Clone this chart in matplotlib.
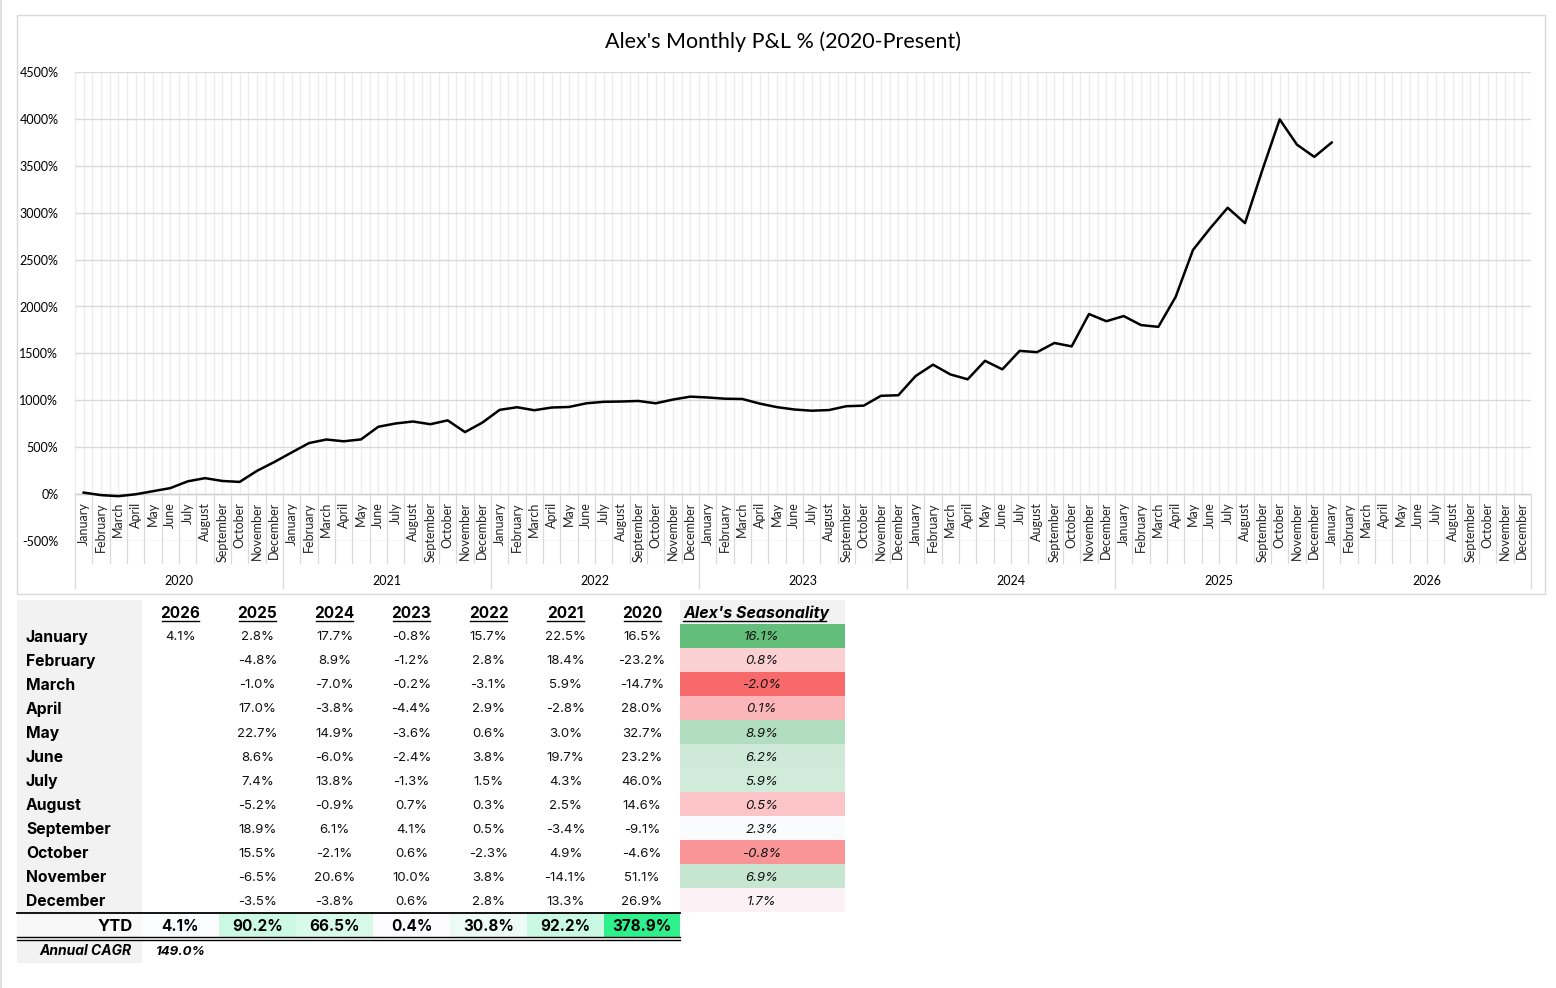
import numpy as np
import matplotlib
matplotlib.use("Agg")
import matplotlib.pyplot as plt
from matplotlib.patches import Rectangle
from matplotlib.lines import Line2D
from matplotlib.colors import LinearSegmentedColormap, TwoSlopeNorm, Normalize
import matplotlib.transforms as mtransforms

W, H = 1556, 988

# ---- data ----
month_names = ['January', 'February', 'March', 'April', 'May', 'June', 'July',
               'August', 'September', 'October', 'November', 'December']
chart_years = ['2020', '2021', '2022', '2023', '2024', '2025', '2026']

# cumulative P&L % (Jan 2020 .. Jan 2026)
cum_pnl = [16, -11, -22, -2, 31, 64, 136, 170, 140, 130, 248, 342,
           444, 544, 582, 563, 583, 718, 753, 774, 745, 786, 661, 762,
           898, 926, 894, 923, 929, 968, 984, 987, 993, 968, 1008, 1039,
           1030, 1017, 1014, 965, 927, 902, 889, 896, 937, 943, 1048, 1054,
           1259, 1380, 1276, 1224, 1421, 1330, 1527, 1513, 1611, 1575, 1920, 1843,
           1898, 1802, 1783, 2103, 2603, 2836, 3053, 2889, 3454, 3995, 3725, 3595,
           3748]

table_years = ['2026', '2025', '2024', '2023', '2022', '2021', '2020']
ret_2026 = [4.1, None, None, None, None, None, None, None, None, None, None, None]
ret_2025 = [2.8, -4.8, -1.0, 17.0, 22.7, 8.6, 7.4, -5.2, 18.9, 15.5, -6.5, -3.5]
ret_2024 = [17.7, 8.9, -7.0, -3.8, 14.9, -6.0, 13.8, -0.9, 6.1, -2.1, 20.6, -3.8]
ret_2023 = [-0.8, -1.2, -0.2, -4.4, -3.6, -2.4, -1.3, 0.7, 4.1, 0.6, 10.0, 0.6]
ret_2022 = [15.7, 2.8, -3.1, 2.9, 0.6, 3.8, 1.5, 0.3, 0.5, -2.3, 3.8, 2.8]
ret_2021 = [22.5, 18.4, 5.9, -2.8, 3.0, 19.7, 4.3, 2.5, -3.4, 4.9, -14.1, 13.3]
ret_2020 = [16.5, -23.2, -14.7, 28.0, 32.7, 23.2, 46.0, 14.6, -9.1, -4.6, 51.1, 26.9]
ytd = [4.1, 90.2, 66.5, 0.4, 30.8, 92.2, 378.9]
seasonality = [16.1, 0.8, -2.0, 0.1, 8.9, 6.2, 5.9, 0.5, 2.3, -0.8, 6.9, 1.7]
annual_cagr = 149.0

returns = [ret_2026, ret_2025, ret_2024, ret_2023, ret_2022, ret_2021, ret_2020]

chart_font = 'Lato'
table_font = ['Inter', 'DejaVu Sans']

fig = plt.figure(figsize=(W / 100, H / 100), dpi=100)
fig.patch.set_facecolor('white')


def fx(x):
    return x / W


def fy(y):
    return 1 - y / H


def frect(x0, y0, x1, y1, **kw):
    fig.patches.append(Rectangle((fx(x0), fy(y1)), fx(x1) - fx(x0), fy(y0) - fy(y1),
                                 transform=fig.transFigure, **kw))


def fline(x0, x1, y, lw=1.0, color='black'):
    fig.lines.append(Line2D([fx(x0), fx(x1)], [fy(y), fy(y)], transform=fig.transFigure,
                            color=color, lw=lw))


# chart frame
frect(17, 15, 1545, 594, facecolor='none', edgecolor='#D9D9D9', lw=1.0)
fig.lines.append(Line2D([0.0007, 0.0007], [0, 1], transform=fig.transFigure, color='#D9D9D9', lw=1.2))

ax = fig.add_axes([fx(75), fy(541), fx(1531) - fx(75), fy(72) - fy(541)])
ax.set_facecolor('none')
n_months = len(chart_years) * 12
ax.set_xlim(-0.5, n_months - 0.5)
ax.set_ylim(-500, 4500)
for s in ax.spines.values():
    s.set_visible(False)

ax.set_yticks(np.arange(-500, 4501, 500))
ax.set_yticklabels([f'{v}%' for v in range(-500, 4501, 500)], fontsize=9, family=chart_font)
ax.tick_params(axis='y', length=0, pad=12)
ax.set_xticks([])
ax.grid(axis='y', color='#D9D9D9', lw=1.0)
ax.set_axisbelow(True)
ax.vlines(np.arange(-0.5, n_months, 0.5), 0, 4500, color='#ECECEC', lw=0.9, zorder=0)
ax.axhline(0, color='#D0D0D0', lw=1.0, zorder=1)

ax.plot(np.arange(len(cum_pnl)), cum_pnl, color='black', lw=1.8, zorder=3)

# category axis below the zero line
trans = mtransforms.blended_transform_factory(ax.transData, ax.transAxes)
for i in range(n_months):
    ax.text(i, 0.083, month_names[i % 12], rotation=90, ha='center', va='top',
            fontsize=9, family=chart_font, transform=trans, color='#222222')
for b in range(n_months + 1):
    bottom = -0.100 if b % 12 == 0 else -0.047
    ax.plot([b - 0.5, b - 0.5], [0.1, bottom], transform=trans, color='#D9D9D9',
            lw=0.9, clip_on=False)
for k, yr in enumerate(chart_years):
    ax.text(12 * k + 5.5, -0.085, yr, ha='center', va='center', fontsize=9,
            family=chart_font, transform=trans)

fig.text(fx(783), fy(42), "Alex's Monthly P&L % (2020-Present)", ha='center', va='center',
         fontsize=15.5, family=chart_font)

# ---- table ----
col_edges = [142, 219, 296, 373, 450, 527, 604, 680]
row_h = 24
top_rows = 624
dy = 1.5  # text nudge inside the cells

frect(17, 600, 142, 912, facecolor='#F2F2F2', lw=0)
frect(17, 940, 142, 963, facecolor='#F2F2F2', lw=0)
frect(680, 600, 845, 624, facecolor='#F2F2F2', lw=0)

for j, yr in enumerate(table_years):
    cx = (col_edges[j] + col_edges[j + 1]) / 2
    fig.text(fx(cx), fy(613), yr, ha='center', va='center', fontsize=11,
             weight='bold', family=table_font)
    t_w = 37
    fline(cx - t_w / 2, cx + t_w / 2, 620.5, lw=1.0)
    for i in range(12):
        v = returns[j][i]
        if v is None:
            continue
        cy = top_rows + row_h * i + row_h / 2 + dy
        fig.text(fx(cx), fy(cy), f'{v:.1f}%', ha='center', va='center', fontsize=9.5,
                 family=table_font, color='#111111')

for i, m in enumerate(month_names):
    cy = top_rows + row_h * i + row_h / 2 + dy
    fig.text(fx(26), fy(cy), m, ha='left', va='center', fontsize=11.3, weight='bold',
             family=table_font)

# seasonality column (red-white-green scale)
cmap3 = LinearSegmentedColormap.from_list('rwg', ['#F8696B', '#FCFCFF', '#63BE7B'])
norm3 = TwoSlopeNorm(vmin=min(seasonality), vcenter=float(np.median(seasonality)),
                     vmax=max(seasonality))
fig.text(fx(683), fy(613), "Alex's Seasonality", ha='left', va='center', fontsize=11.5,
         weight='bold', style='italic', family=table_font)
fline(683, 826, 620.5, lw=1.0)
for i, v in enumerate(seasonality):
    y0 = top_rows + row_h * i
    frect(680, y0, 845, y0 + row_h, facecolor=cmap3(norm3(v)), lw=0)
    fig.text(fx(762), fy(y0 + row_h / 2 + dy), f'{v:.1f}%', ha='center', va='center',
             fontsize=9.5, style='italic', family=table_font, color='#111111')

# YTD row (white-green scale)
cmap2 = LinearSegmentedColormap.from_list('wg', ['#FCFCFF', '#2EF08C'])
norm2 = Normalize(vmin=min(ytd), vmax=max(ytd))
frect(17, 913, 142, 937, facecolor='#F8F8F8', lw=0)
fig.text(fx(133), fy(925 + dy), 'YTD', ha='right', va='center', fontsize=12, weight='bold',
         family=table_font)
for j, v in enumerate(ytd):
    frect(col_edges[j], 913, col_edges[j + 1], 937, facecolor=cmap2(norm2(v)), lw=0)
    cx = (col_edges[j] + col_edges[j + 1]) / 2
    fig.text(fx(cx), fy(925 + dy), f'{v:.1f}%', ha='center', va='center', fontsize=11,
             weight='bold', family=table_font)
fline(17, 680, 912.5, lw=1.3)
fline(17, 680, 937.2, lw=1.0)
fline(17, 680, 939.8, lw=1.0)

fig.text(fx(131), fy(951), 'Annual CAGR', ha='right', va='center', fontsize=10,
         weight='bold', style='italic', family=table_font)
fig.text(fx(181), fy(952), f'{annual_cagr:.1f}%', ha='center', va='center', fontsize=9.5,
         weight='bold', style='italic', family=table_font)

fig.savefig('out.png', dpi=100)
